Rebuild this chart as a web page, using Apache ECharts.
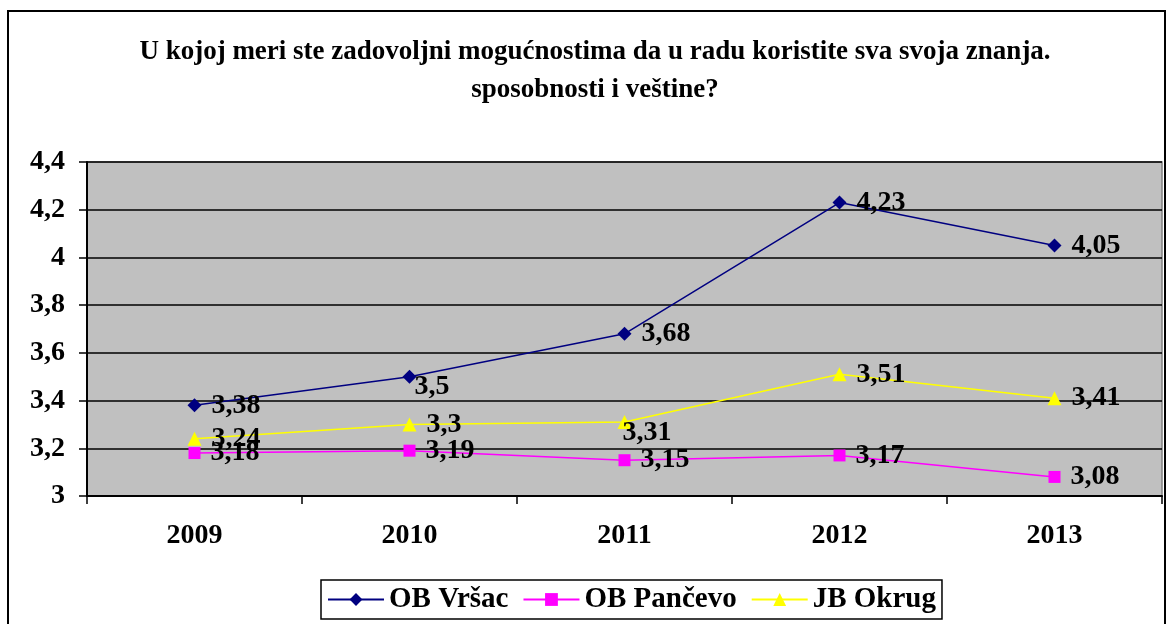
<!DOCTYPE html>
<html><head><meta charset="utf-8">
<script src="https://cdn.jsdelivr.net/npm/echarts@6/dist/echarts.min.js"></script>
<style>html,body{margin:0;padding:0;background:#fff}#c{width:1168px;height:624px}</style>
</head><body><div id="c"></div>
<script>
const categories = ['2009','2010','2011','2012','2013'];
const vrsac = [3.38, 3.5, 3.68, 4.23, 4.05];
const pancevo = [3.18, 3.19, 3.15, 3.17, 3.08];
const okrug = [3.24, 3.3, 3.31, 3.51, 3.41];
const yTicks = ['3','3,2','3,4','3,6','3,8','4','4,2','4,4'];
const seriesNames = ['OB Vršac','OB Pančevo','JB Okrug'];

const FONT = '"Liberation Serif","Times New Roman",serif';
const fmt = v => String(v).replace('.', ',');
const chart = echarts.init(document.getElementById('c'));

function mkData(arr, overrides) {
  return arr.map((v, i) => overrides && overrides[i] ? {value: v, label: overrides[i]} : v);
}
function mkSeries(name, arr, color, symbol, size, overrides) {
  return {
    name, type: 'line', data: mkData(arr, overrides),
    symbol, symbolSize: size, showSymbol: true,
    lineStyle: {color, width: 1.5}, itemStyle: {color},
    label: {show: true, position: 'right', distance: 10, color: '#000',
      fontFamily: FONT, fontWeight: 'bold', fontSize: 28,
      formatter: p => fmt(p.value)},
    z: 3
  };
}

chart.setOption({
  animation: false,
  backgroundColor: '#fff',
  textStyle: {fontFamily: FONT},
  title: {
    text: 'U kojoj meri ste zadovoljni mogućnostima da u radu koristite sva svoja znanja.\nsposobnosti i veštine?',
    left: 590, top: 28, textAlign: 'center',
    textStyle: {fontFamily: FONT, fontWeight: 'bold', fontSize: 27, lineHeight: 38, color: '#000'}
  },
  graphic: [{
    type: 'rect', shape: {x: 8, y: 11, width: 1157, height: 640},
    style: {fill: null, stroke: '#000', lineWidth: 2}, silent: true
  }],
  legend: {
    data: seriesNames, left: 321, top: 580,
    borderColor: '#000', borderWidth: 1.5, padding: [5, 6, 5, 6],
    itemWidth: 56, itemHeight: 16, itemGap: 14,
    textStyle: {fontFamily: FONT, fontWeight: 'bold', fontSize: 29, color: '#000'}
  },
  grid: {left: 87, right: 6, top: 162, bottom: 128, show: true,
    backgroundColor: '#C0C0C0', borderColor: '#808080', borderWidth: 1.5},
  xAxis: {
    type: 'category', data: categories, boundaryGap: true,
    axisLine: {lineStyle: {color: '#000', width: 2}},
    axisTick: {show: true, inside: false, length: 8, lineStyle: {color: '#000', width: 1.5}},
    axisLabel: {margin: 26, color: '#000', fontFamily: FONT, fontWeight: 'bold', fontSize: 28},
    splitLine: {show: false}
  },
  yAxis: {
    type: 'value', min: 3, max: 4.4, interval: 0.2,
    axisLine: {show: true, lineStyle: {color: '#000', width: 2}},
    axisTick: {show: true, length: 8, lineStyle: {color: '#000', width: 1.5}},
    axisLabel: {margin: 22, color: '#000', fontFamily: FONT, fontWeight: 'bold', fontSize: 28,
      formatter: (v) => yTicks[Math.round((v - 3) / 0.2)]},
    splitLine: {show: true, lineStyle: {color: '#000', width: 1.5}}
  },
  series: [
    mkSeries(seriesNames[0], vrsac, '#000080', 'diamond', 14, {1: {offset: [-12, 10]}}),
    mkSeries(seriesNames[1], pancevo, '#FF00FF', 'rect', 12),
    mkSeries(seriesNames[2], okrug, '#FFFF00', 'triangle', 14, {2: {offset: [-19, 11]}})
  ]
});
</script></body></html>
